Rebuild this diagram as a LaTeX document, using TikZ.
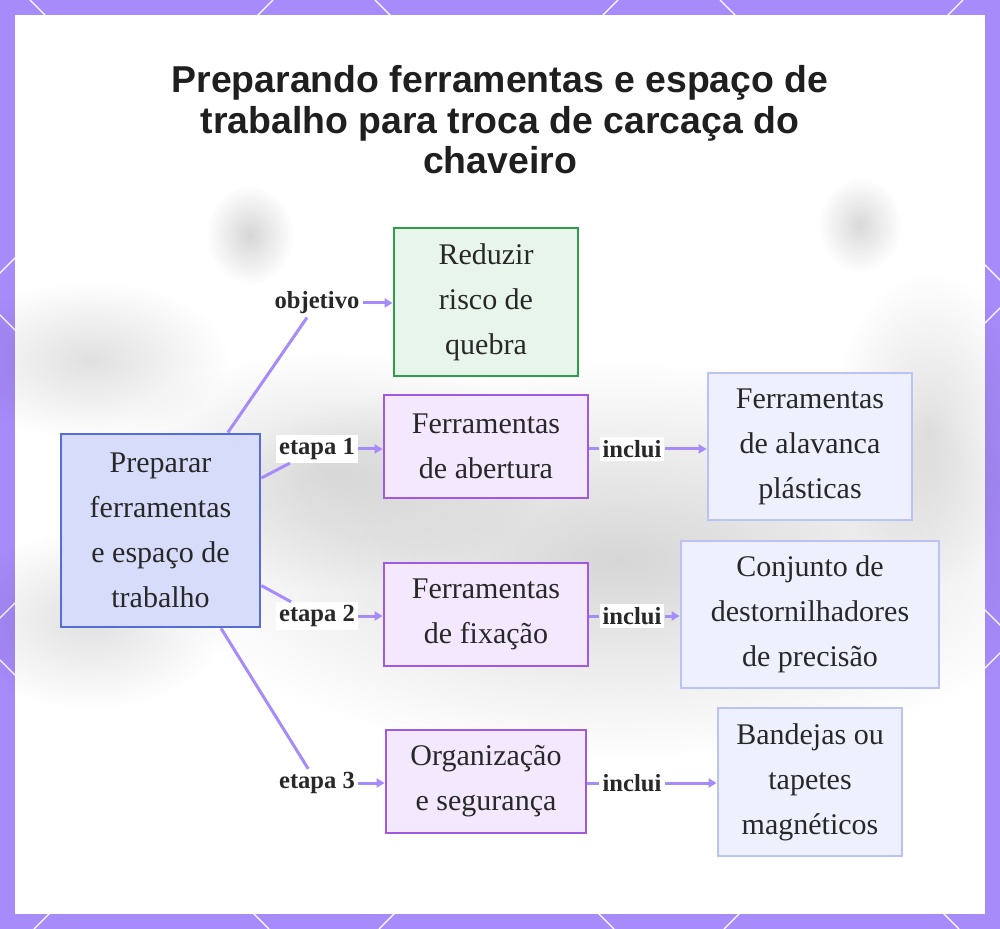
\documentclass[tikz,border=0pt]{standalone}
\usepackage{fontspec}
\setmainfont{Liberation Serif}
\newfontfamily\titlefont{Liberation Sans}
\usetikzlibrary{arrows.meta,fadings}
\definecolor{framepurple}{RGB}{167,139,250}
\definecolor{linkcol}{RGB}{167,139,250}
\definecolor{mainborder}{RGB}{88,108,214}
\definecolor{mainfill}{RGB}{214,220,250}
\definecolor{goalborder}{RGB}{46,158,74}
\definecolor{goalfill}{RGB}{232,245,234}
\definecolor{stepborder}{RGB}{160,90,226}
\definecolor{stepfill}{RGB}{243,232,253}
\definecolor{leafborder}{RGB}{187,194,246}
\definecolor{leaffill}{RGB}{238,241,253}
\definecolor{inkgray}{RGB}{40,40,40}
\tikzfading[name=softblob, inner color=transparent!0, outer color=transparent!100]
\tikzset{
    % caixas
    box/.style={
        draw,
        line width=1.4pt,
        align=center,
        inner sep=0pt,
        text=inkgray,
        font=\fontsize{15}{22.5}\selectfont
    },
    mainbox/.style={box, draw=mainborder, fill=mainfill,
        minimum width=99.5pt, minimum height=96.5pt},
    goalbox/.style={box, draw=goalborder, fill=goalfill,
        minimum width=92pt, minimum height=74pt},
    stepbox/.style={box, draw=stepborder, fill=stepfill,
        minimum width=102pt, minimum height=51.5pt},
    leafbox/.style={box, draw=leafborder, fill=leaffill,
        minimum width=102pt, minimum height=73.5pt},
    % ligacoes
    linkline/.style={line width=1.5pt, linkcol},
    linkarrow/.style={
        line width=1.5pt,
        linkcol,
        -{Triangle[length=4pt, width=4.5pt]}
    },
    linklabel/.style={fill=white, inner sep=1.5pt, text=inkgray,
        font=\fontsize{12.3}{14}\selectfont\bfseries},
    blob/.style={black, path fading=softblob}
}
\begin{document}
\begin{tikzpicture}[x=0.5pt, y=-0.5pt]
    \useasboundingbox (0,0) rectangle (1000,929);
    % moldura
    \fill[framepurple] (0,0) rectangle (1000,929);
    \begin{scope}
        \clip (0,0) rectangle (1000,929);
        \foreach \k in {-3,...,3}
            \draw[white, line width=0.6pt] ({30+345*\k},0) -- ({959+345*\k},929);
        \foreach \k in {0,...,6}
            \draw[white, line width=0.6pt] ({273+345*\k},0) -- ({-656+345*\k},929);
    \end{scope}
    \fill[white] (15,15) rectangle (985,914);
    % fundo desfocado
    \fill[blob, opacity=0.16] (250,235) ellipse (22pt and 25pt);
    \fill[blob, opacity=0.15] (860,225) ellipse (21pt and 24pt);
    \fill[blob, opacity=0.16] (620,560) ellipse (230pt and 100pt);
    \fill[blob, opacity=0.12] (330,470) ellipse (110pt and 60pt);
    \fill[blob, opacity=0.12] (90,360) ellipse (70pt and 40pt);
    \fill[blob, opacity=0.12] (90,620) ellipse (70pt and 45pt);
    \fill[blob, opacity=0.12] (930,430) ellipse (50pt and 80pt);
    % titulo
    \node[font=\titlefont\fontsize{18.7}{20.3}\selectfont\bfseries, align=center, text=black!88]
        (title) at (500,120) {Preparando ferramentas e espaço de\\
        trabalho para troca de carcaça do\\chaveiro};
    % caixas
    \node[mainbox] (main) at (160.5,530.5) {Preparar\\ferramentas\\e espaço de\\trabalho};
    \node[goalbox] (goal) at (486,302) {Reduzir\\risco de\\quebra};
    \node[stepbox] (open) at (486,446.5) {Ferramentas\\de abertura};
    \node[stepbox] (fix) at (486,614.5) {Ferramentas\\de fixação};
    \node[stepbox, minimum width=100pt] (org) at (486,781.5) {Organização\\e segurança};
    \node[leafbox] (lever) at (810,446.5) {Ferramentas\\de alavanca\\plásticas};
    \node[leafbox, minimum width=129pt] (screw) at (810,614.5) {Conjunto de\\destornilhadores\\de precisão};
    \node[leafbox, minimum width=92pt, minimum height=74pt] (tray) at (810,782) {Bandejas ou\\tapetes\\magnéticos};
    % rotulos
    \node[linklabel] (lobj) at (317,303) {objetivo};
    \node[linklabel] (let1) at (317,449) {etapa 1};
    \node[linklabel] (let2) at (317,616) {etapa 2};
    \node[linklabel] (let3) at (317,783) {etapa 3};
    \node[linklabel] (linc1) at (632,449) {inclui};
    \node[linklabel] (linc2) at (632,616) {inclui};
    \node[linklabel] (linc3) at (632,783) {inclui};
    % ligacoes
    \draw[linkline] (main) -- (lobj);
    \draw[linkarrow] (lobj) -- (lobj -| goal.west);
    \draw[linkline] (main) -- (let1);
    \draw[linkarrow] (let1) -- (let1 -| open.west);
    \draw[linkline] (main) -- (let2);
    \draw[linkarrow] (let2) -- (let2 -| fix.west);
    \draw[linkline] (main) -- (let3);
    \draw[linkarrow] (let3) -- (let3 -| org.west);
    \draw[linkline] (linc1 -| open.east) -- (linc1);
    \draw[linkarrow] (linc1) -- (linc1 -| lever.west);
    \draw[linkline] (linc2 -| fix.east) -- (linc2);
    \draw[linkarrow] (linc2) -- (linc2 -| screw.west);
    \draw[linkline] (linc3 -| org.east) -- (linc3);
    \draw[linkarrow] (linc3) -- (linc3 -| tray.west);
\end{tikzpicture}
\end{document}
